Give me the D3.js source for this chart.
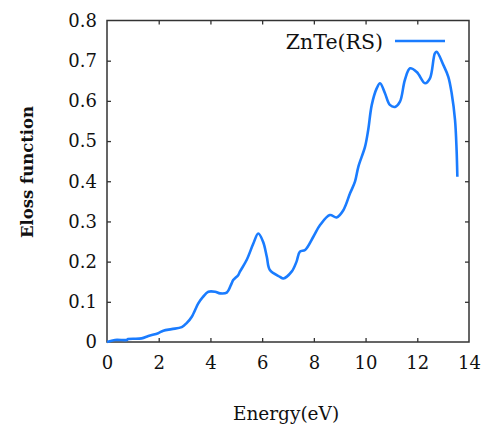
<!DOCTYPE html>
<html>
<head>
<meta charset="utf-8">
<script src="https://cdn.jsdelivr.net/npm/d3@7"></script>
<style>
  html, body { margin: 0; padding: 0; background: #fff; }
  svg { display: block; }
  svg text { font-family: "DejaVu Serif", "Liberation Serif", serif; }
</style>
</head>
<body>
<svg id="chart" width="482" height="427"></svg>
<script>
// Energy loss function of rock-salt ZnTe
const energy = [0, 0.31, 0.76, 0.82, 1.34, 1.6, 1.98, 2.18, 2.50, 2.89, 3.08, 3.28, 3.53, 3.72, 3.92,
  4.18, 4.37, 4.63, 4.82, 4.88, 5.08, 5.14, 5.40, 5.66, 5.85, 6.04, 6.18, 6.30, 6.69, 6.82, 7.14,
  7.33, 7.46, 7.66, 7.98, 8.24, 8.62, 8.88, 9.14, 9.40, 9.59, 9.72, 9.98, 10.10, 10.24, 10.43,
  10.56, 10.75, 10.94, 11.14, 11.33, 11.52, 11.72, 11.98, 12.30, 12.49, 12.68, 12.75, 13.01,
  13.20, 13.33, 13.46, 13.52, 13.55];
const eloss = [0, 0.005, 0.005, 0.0075, 0.009, 0.015, 0.022, 0.028, 0.032, 0.037, 0.047, 0.063, 0.096, 0.113, 0.125,
  0.125, 0.121, 0.123, 0.146, 0.154, 0.167, 0.175, 0.204, 0.245, 0.270, 0.249, 0.212, 0.179, 0.162, 0.158, 0.175,
  0.200, 0.225, 0.229, 0.262, 0.291, 0.316, 0.310, 0.328, 0.370, 0.399, 0.436, 0.486, 0.527, 0.590, 0.631,
  0.644, 0.619, 0.590, 0.585, 0.598, 0.652, 0.681, 0.672, 0.644, 0.656, 0.718, 0.722, 0.689,
  0.660, 0.619, 0.552, 0.478, 0.411];
const xTicks = [0, 2, 4, 6, 8, 10, 12, 14];
const yTicks = [0, 0.1, 0.2, 0.3, 0.4, 0.5, 0.6, 0.7, 0.8];
const seriesName = "ZnTe(RS)";

const svg = d3.select("#chart");
const margin = { left: 107, top: 20.5, right: 13, bottom: 85 };
const W = 482, H = 427;
const x = d3.scaleLinear().domain([0, 14]).range([margin.left, W - margin.right]);
const y = d3.scaleLinear().domain([0, 0.8]).range([H - margin.bottom, margin.top]);

const tickLen = 4;
const fmtY = d => d === 0 ? "0" : d3.format(".1f")(d);

// mirrored inward ticks on all four sides
const axes = [
  { ax: d3.axisBottom(x).tickValues(xTicks).tickSize(-tickLen).tickPadding(14), t: `translate(0,${y(0)})`, labels: true },
  { ax: d3.axisTop(x).tickValues(xTicks).tickSize(-tickLen), t: `translate(0,${y(0.8)})`, labels: false },
  { ax: d3.axisLeft(y).tickValues(yTicks).tickSize(-tickLen).tickPadding(10).tickFormat(fmtY), t: `translate(${x(0)},0)`, labels: true },
  { ax: d3.axisRight(y).tickValues(yTicks).tickSize(-tickLen), t: `translate(${x(14)},0)`, labels: false }
];
axes.forEach(a => {
  const g = svg.append("g").attr("transform", a.t).call(a.ax)
    .attr("font-family", null).attr("font-size", null);
  g.select(".domain").remove();
  g.selectAll(".tick line").attr("stroke", "#333").attr("stroke-width", 1.3);
  g.selectAll(".tick text").attr("fill", "#111").style("font-size", "18px");
  if (!a.labels) g.selectAll(".tick text").remove();
  // drop end ticks that sit on the frame corners
  g.selectAll(".tick line").filter(d => d === 0 || d === 14 || d === 0.8).remove();
});

// frame
svg.append("rect")
  .attr("x", x(0)).attr("y", y(0.8))
  .attr("width", x(14) - x(0)).attr("height", y(0) - y(0.8))
  .attr("fill", "none").attr("stroke", "#333").attr("stroke-width", 1.5);

// curve
const pts = energy.map((e, i) => [e, eloss[i]]);
svg.append("path")
  .datum(pts)
  .attr("fill", "none")
  .attr("stroke", "#1a7cff")
  .attr("stroke-width", 2.6)
  .attr("stroke-linejoin", "round")
  .attr("d", d3.line().x(d => x(d[0])).y(d => y(d[1])).curve(d3.curveCatmullRom.alpha(0.5)));

// legend
svg.append("text")
  .attr("x", 383).attr("y", 49)
  .attr("text-anchor", "end")
  .attr("fill", "#111").style("font-size", "20.5px")
  .text(seriesName);
svg.append("line")
  .attr("x1", 395).attr("x2", 445).attr("y1", 41).attr("y2", 41)
  .attr("stroke", "#1a7cff").attr("stroke-width", 2.6);

// axis titles
svg.append("text")
  .attr("x", 286).attr("y", 420)
  .attr("text-anchor", "middle")
  .attr("fill", "#111").style("font-size", "18.5px")
  .text("Energy(eV)");
svg.append("text")
  .attr("transform", "translate(33,172) rotate(-90)")
  .attr("text-anchor", "middle")
  .attr("fill", "#111").style("font-size", "16.5px").style("font-weight", "bold")
  .text("Eloss function");
</script>
</body>
</html>
